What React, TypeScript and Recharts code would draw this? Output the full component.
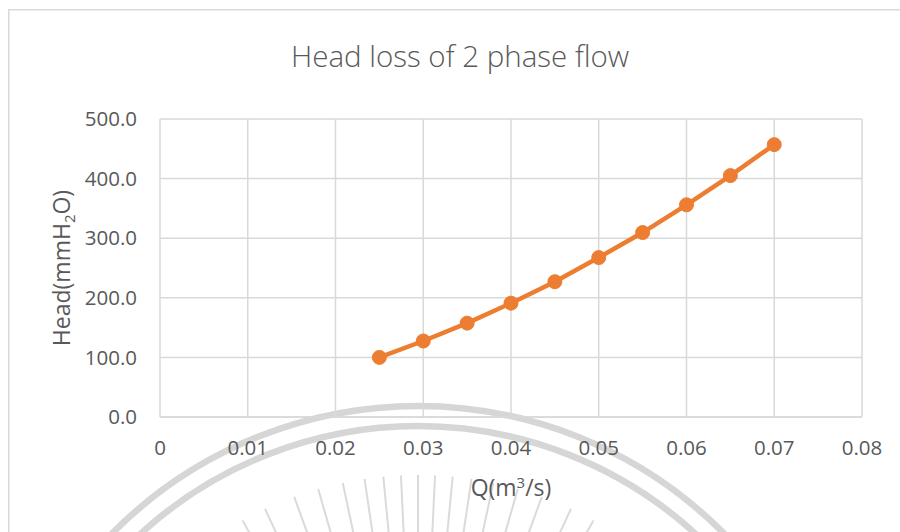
import React from "react";
import { LineChart, Line, XAxis, YAxis, CartesianGrid, Customized } from "recharts";

const flowRates = [0.025, 0.03, 0.035, 0.04, 0.045, 0.05, 0.055, 0.06, 0.065, 0.07];
const headLoss = [100.0, 127.5, 157.5, 191.0, 227.0, 267.5, 309.5, 356.0, 405.0, 457.0];
const xTicks = [0, 0.01, 0.02, 0.03, 0.04, 0.05, 0.06, 0.07, 0.08];
const yTicks = [0, 100, 200, 300, 400, 500];
const chartTitle = "Head loss of 2 phase flow";

const data = flowRates.map((q, i) => ({ q, head: headLoss[i] }));

const FONT = "'Open Sans', 'Noto Sans', sans-serif";
const TEXT = "#595959";
const GRID = "#d9d9d9";
const ORANGE = "#ED7D31";

const rayAngles = [-29, -25, -20, -16, -12, -8.5, -5.5, -2.7, 0, 2.7, 5.5, 8.5, 12, 16, 20, 25, 29];

function Background() {
  const cx = 418;
  const cy = 837;
  return (
    <svg
      width={900}
      height={532}
      style={{ position: "absolute", left: 0, top: 0, pointerEvents: "none" }}
    >
      <line x1={8.75} y1={9} x2={8.75} y2={532} stroke={GRID} strokeWidth={1.5} />
      <line x1={8} y1={9.75} x2={900} y2={9.75} stroke={GRID} strokeWidth={1.5} />
      <circle cx={cx} cy={cy} r={431} fill="none" stroke="#d6d6d6" strokeWidth={6.5} />
      <circle cx={cx} cy={cy} r={411} fill="none" stroke="#d6d6d6" strokeWidth={6.5} />
      {rayAngles.map((a, i) => {
        const rad = (a * Math.PI) / 180;
        const r1 = 250;
        const r2 = 362;
        return (
          <line
            key={i}
            x1={cx + r1 * Math.sin(rad)}
            y1={cy - r1 * Math.cos(rad)}
            x2={cx + r2 * Math.sin(rad)}
            y2={cy - r2 * Math.cos(rad)}
            stroke="#dadada"
            strokeWidth={2}
          />
        );
      })}
    </svg>
  );
}

const YLabel = (props: any) => {
  const vb = props.viewBox || { x: 0, y: 111, width: 152, height: 298 };
  const x = vb.x + 54;
  const y = vb.y + vb.height / 2;
  return (
    <text
      x={x}
      y={y}
      transform={`rotate(-90, ${x}, ${y})`}
      textAnchor="middle"
      dy="0.35em"
      fill={TEXT}
      fontFamily={FONT}
      fontSize={23}
    >
      <tspan>Head(mmH</tspan>
      <tspan fontSize={15} dy={5}>2</tspan>
      <tspan dy={-5}>O)</tspan>
    </text>
  );
};

const XLabel = (props: any) => {
  const vb = props.viewBox || { x: 152, y: 409, width: 702, height: 115 };
  const x = vb.x + vb.width / 2;
  const y = vb.y + 71;
  return (
    <text x={x} y={y} textAnchor="middle" dy="0.35em" fill={TEXT} fontFamily={FONT} fontSize={23}>
      <tspan>Q(m</tspan>
      <tspan fontSize={15} dy={-8}>3</tspan>
      <tspan dy={8}>/s)</tspan>
    </text>
  );
};

const Title = () => (
  <text
    x={452}
    y={59}
    textAnchor="middle"
    fill={TEXT}
    fontFamily={FONT}
    fontSize={29.5}
    fontWeight={300}
  >
    {chartTitle}
  </text>
);

export default function App() {
  return (
    <div
      style={{
        position: "fixed",
        left: 0,
        top: 0,
        width: 900,
        height: 532,
        overflow: "hidden",
        background: "#ffffff",
      }}
    >
      <Background />
      <div style={{ position: "absolute", left: 8, top: 8 }}>
        <LineChart
          width={892}
          height={524}
          data={data}
          margin={{ top: 111, right: 38, left: 0, bottom: 0 }}
        >
          <CartesianGrid stroke={GRID} strokeWidth={1.5} vertical={true} horizontal={true} />
          <XAxis
            dataKey="q"
            type="number"
            domain={[0, 0.08]}
            ticks={xTicks}
            interval={0}
            height={115}
            tickLine={false}
            axisLine={{ stroke: GRID, strokeWidth: 1.5 }}
            tickSize={0}
            tickMargin={23}
            tickFormatter={(v: number) => (v === 0 ? "0" : v.toFixed(2))}
            tick={{ fill: TEXT, fontSize: 20.5, fontFamily: FONT }}
            label={{ content: (p: any) => <XLabel {...p} /> }}
          />
          <YAxis
            type="number"
            domain={[0, 500]}
            ticks={yTicks}
            interval={0}
            width={152}
            tickLine={false}
            axisLine={false}
            tickSize={0}
            tickMargin={23}
            tickFormatter={(v: number) => v.toFixed(1)}
            tick={{ fill: TEXT, fontSize: 20.5, fontFamily: FONT }}
            label={{ content: (p: any) => <YLabel {...p} /> }}
          />
          <Customized component={Title} />
          <Line
            type="linear"
            dataKey="head"
            stroke={ORANGE}
            strokeWidth={4.5}
            dot={{ r: 7, fill: ORANGE, stroke: ORANGE, strokeWidth: 1 }}
            isAnimationActive={false}
          />
        </LineChart>
      </div>
    </div>
  );
}
